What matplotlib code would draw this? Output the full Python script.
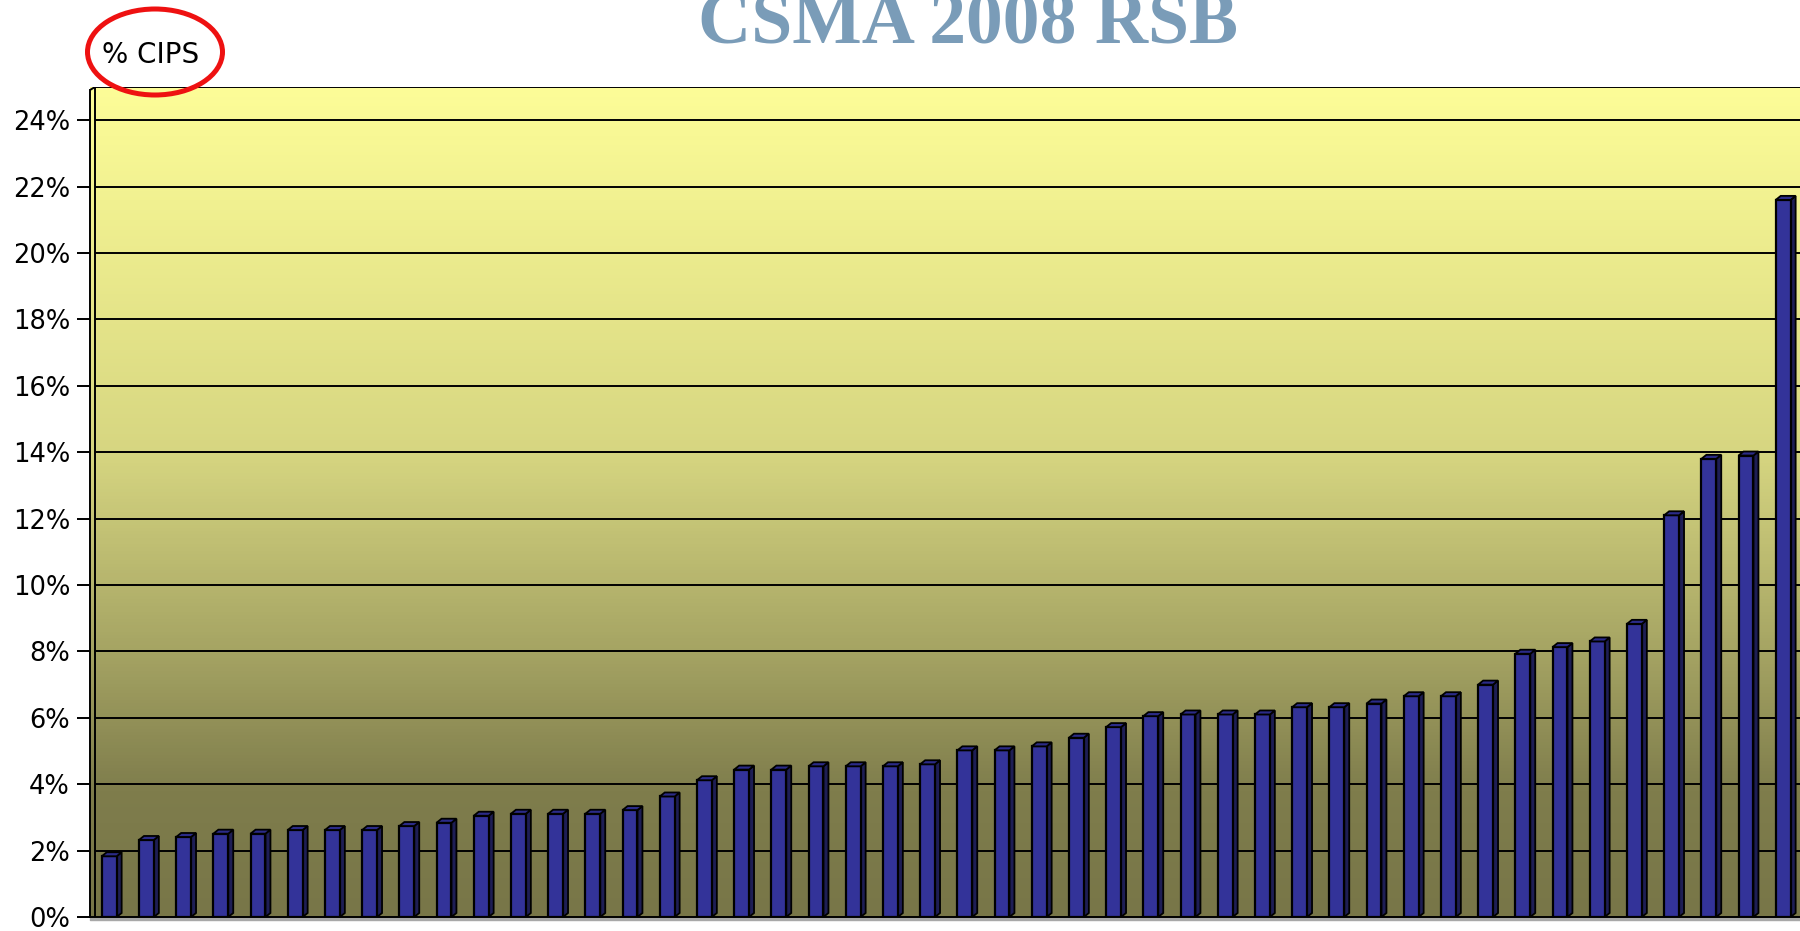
import numpy as np
import matplotlib.pyplot as plt
from matplotlib.patches import Ellipse, Polygon
from matplotlib.ticker import FuncFormatter

# chart data
title = "CSMA 2008 RSB"
axis_note = "% CIPS"
cips_pct = [1.83, 2.32, 2.41, 2.51, 2.51, 2.62, 2.62, 2.62, 2.74, 2.84,
            3.05, 3.11, 3.11, 3.11, 3.22, 3.63, 4.12, 4.44, 4.44, 4.54,
            4.54, 4.54, 4.60, 5.02, 5.02, 5.14, 5.40, 5.72, 6.05, 6.10,
            6.10, 6.10, 6.32, 6.32, 6.43, 6.65, 6.65, 7.00, 7.93, 8.13,
            8.30, 8.83, 12.1, 13.8, 13.9, 21.6]
y_ticks = list(range(0, 26, 2))

W, H = 1800, 931
fig = plt.figure(figsize=(W / 100, H / 100), dpi=100)
ax = fig.add_axes([90 / W, 14 / H, 1 - 90 / W, 830 / H])

px_per_bar = 37.2
px_per_pct = 830 / 25
x = np.arange(len(cips_pct))
x0 = -(109.2 - 90) / px_per_bar
x1 = (W - 109.2) / px_per_bar
wall = -(109.2 - 95) / px_per_bar
ax.set_xlim(x0, x1)
ax.set_ylim(0, 25)

# yellow -> olive background gradient
v = np.linspace(0, 1, 256)
f = np.interp(v, [0, 0.15, 0.32, 0.56, 1], [0, 0.05, 0.34, 0.71, 1])
top_c = np.array([253, 253, 152]) / 255
bot_c = np.array([120, 118, 72]) / 255
cols = bot_c + (top_c - bot_c) * f[:, None]
ax.imshow(cols[::-1][:, None, :], extent=[x0, x1, 0, 25], aspect="auto",
          origin="upper", zorder=0)

# gridlines on the back wall
ax.hlines(y_ticks[1:] + [25], wall, x1, color="black", lw=1.4, zorder=1)
ax.vlines(wall, 0, 25, color="black", lw=1.4, zorder=1)
ax.plot([x0, wall], [25 - 3 / px_per_pct, 25], color="black", lw=1.4, zorder=1)

# bars with a little fake 3D depth
w = 0.40
dx = 5 / px_per_bar
dy = 4 / px_per_pct
ax.bar(x, cips_pct, width=w, color="#333399", edgecolor="black",
       linewidth=1.6, zorder=3)
for xi, val in zip(x, cips_pct):
    r = xi + w / 2
    l = xi - w / 2
    side = Polygon([(r, 0), (r + dx, dy), (r + dx, val + dy), (r, val)],
                   closed=True, facecolor="#1E1E55", edgecolor="black",
                   lw=1.3, zorder=2.9)
    top = Polygon([(l, val), (l + dx, val + dy), (r + dx, val + dy), (r, val)],
                  closed=True, facecolor="#2B2B88", edgecolor="black",
                  lw=1.3, zorder=3.1)
    ax.add_patch(side)
    ax.add_patch(top)

# floor strip
ax.fill_between([x0, x1], -3 / px_per_pct, 0, color="#A8A8A8", clip_on=False, zorder=1)

for s in ["top", "right"]:
    ax.spines[s].set_visible(False)
ax.spines["left"].set_linewidth(1.4)
ax.spines["bottom"].set_linewidth(1.4)
ax.spines["left"].set_bounds(0, 25 - 3 / px_per_pct)

ax.set_yticks(y_ticks)
ax.yaxis.set_major_formatter(FuncFormatter(lambda val, pos: f"{int(val)}%"))
ax.tick_params(axis="y", direction="out", length=9.4, width=1.4, pad=5,
               labelsize=18.5, colors="black")
ax.set_xticks([])

fig.text(968 / W, 1 - 44 / H, title, ha="center", va="baseline",
         fontsize=53, fontweight="bold", family="Liberation Serif", color="#7A9CB8")
fig.text(102 / W, 1 - 63 / H, axis_note, ha="left", va="baseline", fontsize=20)
fig.patches.append(Ellipse((155 / W, 1 - 52 / H), 135 / W, 86 / H, fill=False,
                           edgecolor="#EE1111", lw=3.6, transform=fig.transFigure,
                           figure=fig))

fig.savefig("out.png", dpi=100)
